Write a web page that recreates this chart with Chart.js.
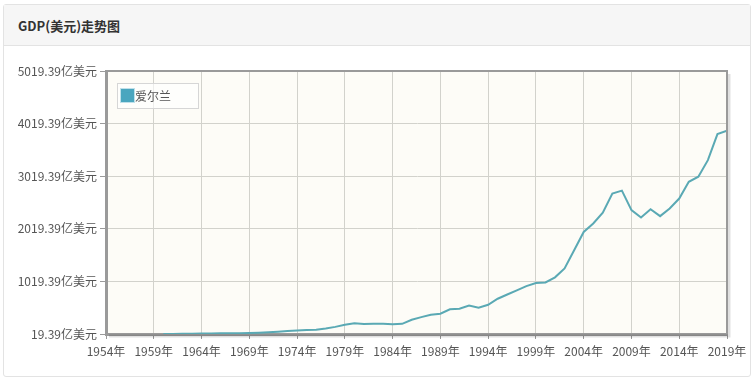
<!DOCTYPE html>
<html>
<head>
<meta charset="utf-8">
<script src="https://cdn.jsdelivr.net/npm/chart.js@4/dist/chart.umd.min.js"></script>
<style>
  html, body { margin: 0; padding: 0; background: #fff; }
  body { width: 756px; height: 381px; position: relative; overflow: hidden; font-family: "Noto Sans CJK SC", sans-serif; }
  .card { position: absolute; left: 3px; top: 4px; width: 746px; height: 371px; border: 1px solid #e3e3e3; border-radius: 3px; }
  .head { height: 40px; background: #f6f6f6; border-bottom: 1px solid #e3e3e3; }
  .head span { position: absolute; left: 14px; top: 11px; font-size: 13px; font-weight: bold; color: #333; }
  #wrap { position: absolute; left: 0; top: 46px; width: 756px; height: 335px; }
</style>
</head>
<body>
<div class="card"><div class="head"><span>GDP(美元)走势图</span></div></div>
<div id="wrap"><canvas id="gdpChart"></canvas></div>
<script>
const seriesName = "爱尔兰";
const years = [
  1960, 1961, 1962, 1963, 1964, 1965, 1966, 1967, 1968, 1969,
  1970, 1971, 1972, 1973, 1974, 1975, 1976, 1977, 1978, 1979,
  1980, 1981, 1982, 1983, 1984, 1985, 1986, 1987, 1988, 1989,
  1990, 1991, 1992, 1993, 1994, 1995, 1996, 1997, 1998, 1999,
  2000, 2001, 2002, 2003, 2004, 2005, 2006, 2007, 2008, 2009,
  2010, 2011, 2012, 2013, 2014, 2015, 2016, 2017, 2018, 2019
];
// GDP, 亿美元
const gdp = [
  19.39, 21, 23, 25, 28, 30, 32, 34, 35, 40,
  45, 52, 62, 75, 85, 95, 100, 125, 155, 195,
  225, 210, 215, 212, 205, 212, 290, 340, 385, 405,
  490, 500, 560, 520, 575, 690, 770, 850, 930, 990,
  1000, 1097, 1265, 1610, 1960, 2120, 2325, 2690, 2745, 2375,
  2235, 2390, 2260, 2405, 2595, 2912, 3010, 3325, 3820, 3885
];
const xTicks = [1954, 1959, 1964, 1969, 1974, 1979, 1984, 1989, 1994, 1999, 2004, 2009, 2014, 2019];
const yTicks = [19.39, 1019.39, 2019.39, 3019.39, 4019.39, 5019.39];

const lineColor = "#5aa9b4";
const labelFont = { family: "'Noto Sans CJK SC', sans-serif", size: 12 };

const plotFrame = {
  id: "plotFrame",
  beforeDraw(chart) {
    const a = chart.chartArea, ctx = chart.ctx;
    ctx.save();
    ctx.fillStyle = "#fdfcf7";
    ctx.fillRect(a.left, a.top, a.right - a.left, a.bottom - a.top);
    ctx.restore();
  },
  afterDraw(chart) {
    const a = chart.chartArea, ctx = chart.ctx;
    ctx.save();
    // shadow
    ctx.strokeStyle = "rgba(0,0,0,0.12)";
    ctx.lineWidth = 3;
    ctx.beginPath();
    ctx.moveTo(a.right + 2, a.top + 3);
    ctx.lineTo(a.right + 2, a.bottom + 2);
    ctx.lineTo(a.left + 3, a.bottom + 2);
    ctx.stroke();
    // top and right frame
    ctx.strokeStyle = "#9a9a9a";
    ctx.lineWidth = 2;
    ctx.beginPath();
    ctx.moveTo(a.left, a.top);
    ctx.lineTo(a.right, a.top);
    ctx.lineTo(a.right, a.bottom);
    ctx.stroke();
    // legend box
    const bx = a.left + 11, by = a.top + 12;
    ctx.fillStyle = "rgba(255,255,255,0.6)";
    ctx.fillRect(bx, by, 81, 25);
    ctx.strokeStyle = "#d6d6d6";
    ctx.lineWidth = 1;
    ctx.strokeRect(bx + 0.5, by + 0.5, 81, 25);
    ctx.fillStyle = "#4aa6bf";
    ctx.fillRect(bx + 4, by + 6, 13, 13);
    ctx.strokeStyle = "#bfe0ea";
    ctx.strokeRect(bx + 3.5, by + 5.5, 14, 14);
    ctx.fillStyle = "#555";
    ctx.font = "12px 'Noto Sans CJK SC', sans-serif";
    ctx.textBaseline = "middle";
    ctx.fillText(chart.data.datasets[0].label, bx + 18, by + 13);
    ctx.restore();
  }
};

new Chart(document.getElementById("gdpChart"), {
  type: "line",
  data: {
    datasets: [
      {
        label: seriesName,
        data: years.map((y, i) => ({ x: y, y: gdp[i] })),
        borderColor: lineColor,
        borderWidth: 2,
        pointRadius: 0,
        tension: 0,
        fill: false,
      },
    ],
  },
  options: {
    responsive: true,
    maintainAspectRatio: false,
    animation: false,
    layout: { padding: { top: 25, right: 29, left: 0, bottom: 0 } },
    plugins: {
      legend: { display: false },
      tooltip: { enabled: false },
    },
    scales: {
      x: {
        type: "linear",
        min: 1954,
        max: 2019,
        afterBuildTicks: (axis) => { axis.ticks = xTicks.map((v) => ({ value: v })); },
        afterFit: (axis) => { axis.height = 47; },
        grid: { color: "#d2d2cc", tickColor: "#9a9a9a", tickLength: 5 },
        border: { color: "#9a9a9a", width: 3 },
        ticks: {
          color: "#555",
          font: labelFont,
          padding: 5,
          maxRotation: 0,
          callback: (v) => v + "年",
        },
      },
      y: {
        min: 19.39,
        max: 5019.39,
        afterBuildTicks: (axis) => { axis.ticks = yTicks.map((v) => ({ value: v })); },
        afterFit: (axis) => { axis.width = 106; },
        grid: { color: "#d2d2cc", tickColor: "#9a9a9a", tickLength: 6 },
        border: { color: "#9a9a9a", width: 3 },
        ticks: {
          color: "#555",
          font: labelFont,
          padding: 3,
          callback: (v) => v.toFixed(2) + "亿美元",
        },
      },
    },
  },
  plugins: [plotFrame],
});
</script>
</body>
</html>
